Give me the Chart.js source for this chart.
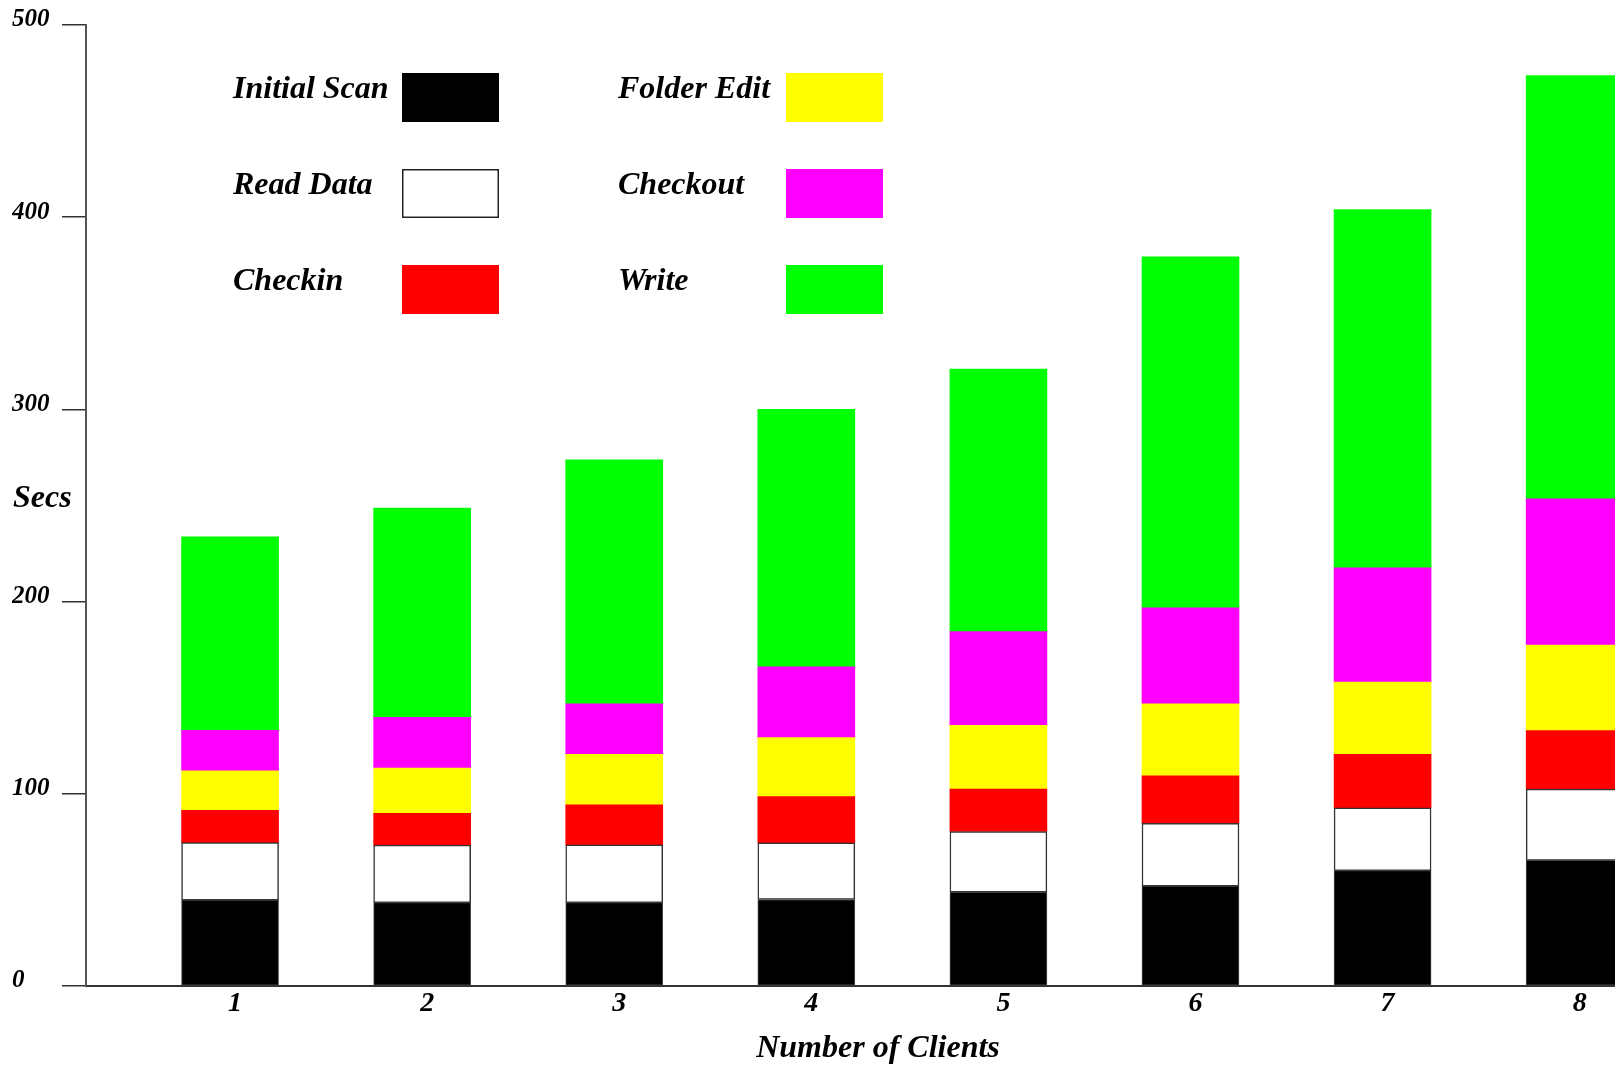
<html>
<head>
  <script src="https://cdn.jsdelivr.net/npm/chart.js@4.4.1/dist/chart.umd.min.js"></script>
  <style>
    body { margin: 0; background: #fff; }
  </style>
</head>
<body>
  <canvas id="chart" width="1615" height="1065"></canvas>
  <script>
    // number of clients on the x axis
    const clients = [1, 2, 3, 4, 5, 6, 7, 8];
    const yTicks = [0, 100, 200, 300, 400, 500];

    // seconds spent in each phase (segment heights, bottom to top)
    const initialScan = [44.7, 43.4, 43.4, 45.0, 48.8, 52.0, 60.0, 65.4];
    const readData    = [29.9, 29.9, 30.0, 29.5, 31.6, 32.7, 32.7, 37.0];
    const checkin     = [16.8, 16.5, 20.9, 24.1, 22.0, 24.6, 27.9, 30.5];
    const folderEdit  = [20.6, 23.6, 26.3, 30.6, 33.2, 37.5, 37.5, 44.5];
    const checkout    = [21.0, 26.4, 26.2, 36.9, 48.8, 49.9, 59.5, 76.1];
    const write       = [100.7, 108.9, 127.0, 134.0, 136.6, 182.7, 186.4, 220.2];

    const FONT = '"Liberation Serif", "Times New Roman", serif';

    const pts = arr => arr.map((v, i) => ({ x: clients[i], y: v }));

    // legend: two columns, label then colour box
    const boxLegend = {
      id: 'boxLegend',
      afterDraw(chart) {
        const ctx = chart.ctx;
        ctx.save();
        ctx.font = 'italic bold 32px ' + FONT;
        ctx.fillStyle = '#000';
        ctx.textBaseline = 'alphabetic';
        ctx.textAlign = 'left';
        chart.data.datasets.forEach((ds, i) => {
          const col = Math.floor(i / 3);
          const row = i % 3;
          const tx = col === 0 ? 233 : 618;
          const bx = col === 0 ? 402 : 786;
          const by = 73 + row * 96;
          ctx.fillStyle = '#000';
          ctx.fillText(ds.label, tx, 98 + row * 96);
          ctx.fillStyle = ds.backgroundColor;
          ctx.fillRect(bx, by, 97, 49);
          if (ds.label === 'Read Data') {
            ctx.strokeStyle = '#222';
            ctx.lineWidth = 1.5;
            ctx.strokeRect(bx + 0.75, by + 0.75, 95.5, 47.5);
          }
        });
        // axis titles, horizontal
        ctx.fillStyle = '#000';
        ctx.fillText('Secs', 13, 507);
        ctx.textAlign = 'center';
        ctx.fillText('Number of Clients', 878, 1057);
        ctx.restore();
      }
    };

    const ctx = document.getElementById('chart').getContext('2d');
    const myChart = new Chart(ctx, {
      type: 'bar',
      data: {
        datasets: [{
          label: 'Initial Scan',
          data: pts(initialScan),
          backgroundColor: '#000000',
          borderColor: '#444444',
          borderWidth: 1
        }, {
          label: 'Read Data',
          data: pts(readData),
          backgroundColor: '#ffffff',
          borderColor: '#333333',
          borderWidth: 1.5
        }, {
          label: 'Checkin',
          data: pts(checkin),
          backgroundColor: '#ff0000',
          borderWidth: 0
        }, {
          label: 'Folder Edit',
          data: pts(folderEdit),
          backgroundColor: '#ffff00',
          borderWidth: 0
        }, {
          label: 'Checkout',
          data: pts(checkout),
          backgroundColor: '#ff00ff',
          borderWidth: 0
        }, {
          label: 'Write',
          data: pts(write),
          backgroundColor: '#00ff00',
          borderWidth: 0
        }]
      },
      options: {
        responsive: false,
        animation: false,
        layout: { padding: { left: 12, top: 25, right: 0, bottom: 0 } },
        datasets: { bar: { barThickness: 97, borderSkipped: false } },
        plugins: {
          legend: { display: false },
          tooltip: { enabled: false }
        },
        scales: {
          x: {
            type: 'linear',
            stacked: true,
            offset: false,
            min: 0.25,
            max: 8.21,
            afterBuildTicks: s => { s.ticks = clients.map(v => ({ value: v })); },
            afterFit: s => { s.height = 79; },
            grid: { display: false, drawTicks: false },
            border: { display: true, color: '#333', width: 2 },
            ticks: {
              padding: 1,
              color: '#000',
              labelOffset: 5,
              font: { family: FONT, size: 28, style: 'italic', weight: 'bold' }
            }
          },
          y: {
            stacked: true,
            min: 0,
            max: 500,
            afterBuildTicks: s => { s.ticks = yTicks.map(v => ({ value: v })); },
            afterFit: s => { s.width = 74; },
            grid: { drawOnChartArea: false, drawTicks: true, tickLength: 24, color: '#333', lineWidth: 1.5 },
            border: { display: true, color: '#555', width: 2 },
            ticks: {
              crossAlign: 'far',
              labelOffset: -5,
              padding: 4,
              color: '#000',
              font: { family: FONT, size: 25, style: 'italic', weight: 'bold' }
            }
          }
        }
      },
      plugins: [boxLegend]
    });
  </script>
</body>
</html>
